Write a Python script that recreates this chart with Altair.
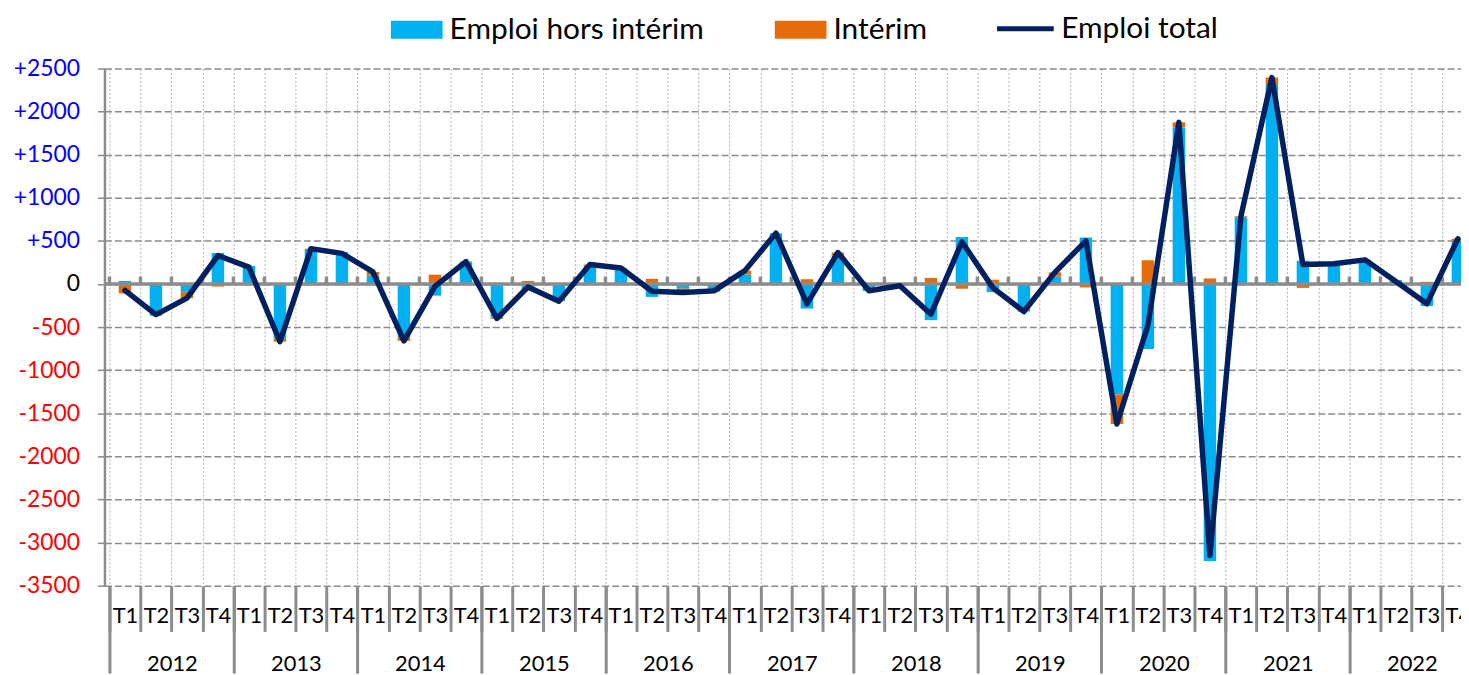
import altair as alt
import pandas as pd

# ---------------- data ----------------
years = ["2012", "2013", "2014", "2015", "2016", "2017", "2018", "2019", "2020", "2021", "2022"]
quarters = ["T1", "T2", "T3", "T4"]

hors_interim = [
    35, -370, -90, 360,
    210, -630, 395, 370,
    100, -615, -135, 255,
    -390, -70, -195, 205,
    180, -150, -55, -90,
    110, 590, -285, 330,
    -80, -15, -420, 545,
    -95, -315, 85, 540,
    -1280, -755, 1815, -3215,
    775, 2310, 270, 240,
    260, 45, -255, 500,
]
interim = [
    -110, 15, -75, -30,
    -15, -40, 15, -15,
    40, -45, 108, 5,
    -15, 35, -5, 20,
    5, 60, -45, 10,
    45, 0, 55, 35,
    0, -5, 70, -55,
    50, -5, 50, -40,
    -345, 275, 60, 65,
    10, 85, -45, 0,
    20, -15, 25, 25,
]
emploi_total = [
    -75, -355, -165, 330,
    195, -670, 410, 355,
    140, -660, -27, 260,
    -400, -35, -200, 225,
    185, -85, -100, -80,
    155, 590, -230, 365,
    -78, -20, -350, 490,
    -45, -320, 135, 500,
    -1625, -480, 1875, -3150,
    785, 2395, 225, 235,
    280, 30, -230, 525,
]
y_ticks = [2500, 2000, 1500, 1000, 500, 0, -500, -1000, -1500, -2000, -2500, -3000, -3500]

SERIES = ["Emploi hors intérim", "Intérim", "Emploi total"]
COLORS = ["#00B0F0", "#E46C0A", "#002060"]

# ---------------- derived tables ----------------
n = len(emploi_total)
rows = []
for i, (b, o) in enumerate(zip(hors_interim, interim)):
    rows.append({"i": i, "serie": SERIES[0], "y0": 0, "y1": b})
    base = b if (o >= 0) == (b >= 0) else 0
    rows.append({"i": i, "serie": SERIES[1], "y0": base, "y1": base + o})
bars_df = pd.DataFrame(rows)
line_df = pd.DataFrame({"i": list(range(n)), "v": emploi_total, "serie": SERIES[2]})
bounds = [k - 0.5 for k in range(n)]
bounds_df = pd.DataFrame({"b": bounds})
year_bounds = [4 * k - 0.5 for k in range(len(years))]
quarter_centers = list(range(n))

# ---------------- styles ----------------
FONT = "Lato"
GRAY = "#8c8c8c"
QW = 1364 / 43.44  # quarter width in px
xscale = alt.Scale(domain=[-0.5, 42.94], nice=False, zero=False)
yscale = alt.Scale(domain=[-3500, 2500], nice=False)

q_js = "[" + ",".join(f"'{q}'" for q in quarters) + "]"
y_js = "[" + ",".join(f"'{y}'" for y in years) + "]"

axis_grid = alt.Axis(
    values=bounds, orient="bottom", title=None, grid=True, gridColor="#b0b0b0",
    gridDash=[2, 2], gridWidth=1, ticks=True, tickSize=46, tickWidth=3,
    tickColor=GRAY, labels=False, domain=False,
)
axis_years = alt.Axis(
    values=year_bounds, orient="bottom", title=None, grid=False, ticks=True,
    tickSize=88, tickWidth=3, tickColor=GRAY, domain=False,
    labelExpr=f"{y_js}[(datum.value + 0.5) / 4]", labelOffset=2 * QW,
    labelPadding=-10, labelBaseline="middle", labelFontSize=22, labelFont=FONT,
    labelColor="#000000", labelFlush=False, labelOverlap=False, labelBound=False,
)
axis_quarters = alt.Axis(
    values=quarter_centers, orient="bottom", title=None, grid=False, ticks=False,
    tickSize=0, domain=False, labelExpr=f"{q_js}[datum.value % 4]",
    labelPadding=30, labelBaseline="middle", labelFontSize=22, labelFont=FONT,
    labelColor="#000000", labelFlush=False, labelOverlap=False, labelBound=False,
)
y_axis = alt.Axis(
    values=y_ticks, title=None, grid=True, gridColor="#8a8a8a", gridDash=[7, 3],
    gridWidth=1.5, tickSize=8, tickColor="#8a8a8a", tickDash=[7, 3], tickWidth=1.5,
    domain=True, domainColor=GRAY, domainWidth=2.5,
    labelExpr="datum.value > 0 ? '+' + datum.value : '' + datum.value",
    labelColor={"condition": [{"test": "datum.value > 0", "value": "#0000ff"},
                              {"test": "datum.value < 0", "value": "#ff0000"}],
                "value": "#000000"},
    labelFontSize=23, labelFont=FONT, labelPadding=17, labelOverlap=False,
)

RECT_PATH = "M-1,-0.35L1,-0.35L1,0.35L-1,0.35Z"

bars = alt.Chart(bars_df).mark_bar(size=12.5, clip=True).encode(
    x=alt.X("i:Q", scale=xscale, axis=axis_grid),
    y=alt.Y("y0:Q", scale=yscale, axis=y_axis),
    y2="y1:Q",
    fill=alt.Fill(
        "serie:N",
        scale=alt.Scale(domain=SERIES[:2], range=COLORS[:2]),
        legend=alt.Legend(
            orient="none", legendX=288, legendY=-65, direction="horizontal", title=None,
            symbolType=RECT_PATH, symbolSize=2704, symbolStrokeWidth=0,
            labelFontSize=30, labelFont=FONT, labelColor="#000000", labelOffset=7,
            columnPadding=71, labelLimit=600, padding=0,
        ),
    ),
    order=alt.Order("serie:N"),
)

zero_rule = alt.Chart(pd.DataFrame({"z": [0]})).mark_rule(
    color=GRAY, strokeWidth=3.5
).encode(y=alt.Y("z:Q", scale=yscale, axis=None))

zero_ticks = alt.Chart(bounds_df).mark_rule(color=GRAY, strokeWidth=3.5).encode(
    x=alt.X("b:Q", scale=xscale, axis=axis_years),
    y=alt.datum(0, scale=yscale, axis=None),
    y2=alt.datum(86),
)

line = alt.Chart(line_df).mark_line(
    strokeWidth=5.5, strokeJoin="round", strokeCap="round", clip=True
).encode(
    x=alt.X("i:Q", scale=xscale, axis=axis_quarters),
    y=alt.Y("v:Q", scale=yscale, axis=None),
    stroke=alt.Stroke(
        "serie:N",
        scale=alt.Scale(domain=SERIES[2:], range=COLORS[2:]),
        legend=alt.Legend(
            orient="none", legendX=895, legendY=-71, direction="horizontal", title=None,
            symbolType="stroke", symbolSize=3249, symbolStrokeWidth=5,
            labelFontSize=30, labelFont=FONT, labelColor="#000000", labelOffset=5,
            labelLimit=600, padding=0,
        ),
    ),
)

chart = (
    alt.layer(bars, zero_rule, zero_ticks, line)
    .resolve_axis(x="independent", y="independent")
    .resolve_legend(fill="independent", stroke="independent")
    .properties(
        width=1364, height=520,
        padding={"left": 97, "top": 59, "right": 0, "bottom": 88},
        autosize=alt.AutoSizeParams(type="none"),
        background="white",
    )
    .configure_view(stroke=None)
)

chart.save("out.html", embed_options={"renderer": "svg", "actions": False})
